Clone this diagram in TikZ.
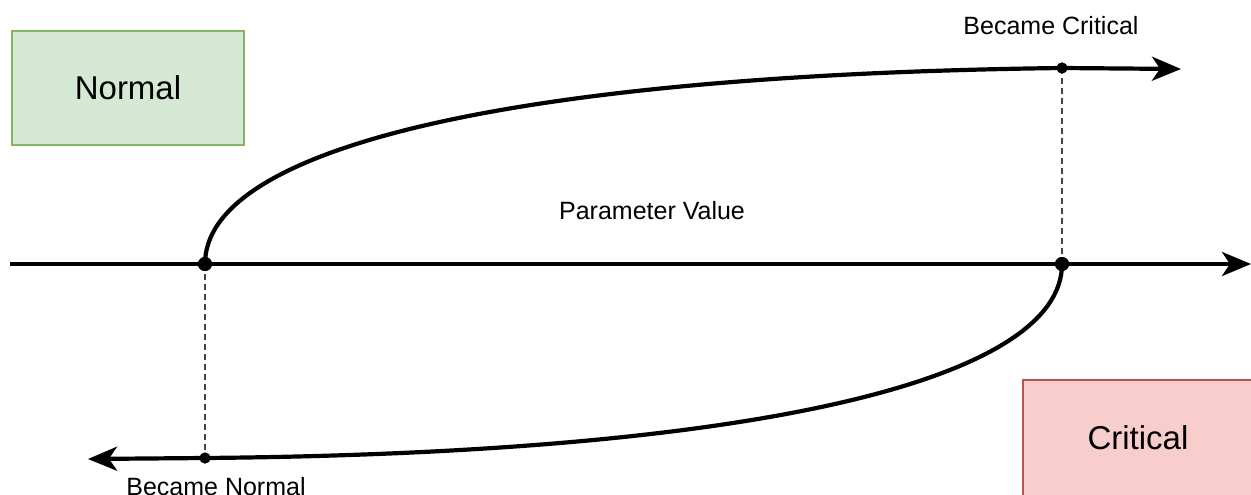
\documentclass[tikz,border=0pt]{standalone}
\usepackage{fontspec}
\setmainfont{Liberation Sans}
\usetikzlibrary{arrows.meta}
\definecolor{nfill}{HTML}{D5E8D4}
\definecolor{ndraw}{HTML}{82B366}
\definecolor{cfill}{HTML}{F8CECC}
\definecolor{cdraw}{HTML}{B85450}
\definecolor{dashgray}{HTML}{444444}
\begin{document}
\begin{tikzpicture}[x=1pt,y=-1pt,
  statebox/.style={draw, line width=1.5pt, minimum width=232pt, minimum height=114pt, inner sep=0pt, font=\fontsize{33}{38}\selectfont},
  boxtext/.style={inner sep=0pt, font=\fontsize{33}{38}\selectfont},
  lbl/.style={font=\fontsize{25}{30}\selectfont, inner sep=0pt, anchor=base},
  bigdot/.style={circle, fill=black, inner sep=0pt, minimum size=14pt},
  smalldot/.style={circle, fill=black, inner sep=0pt, minimum size=11pt},
  thick line/.style={line width=4.2pt},
  guide/.style={draw=dashgray, line width=1.6pt, dash pattern=on 6pt off 4pt},
  tip/.style={-{Stealth[length=29pt,width=24pt,inset=8pt]}}
]
\useasboundingbox (0,0) rectangle (1251,495);
\clip (0,0) rectangle (1251,495);
\fill[white] (0,0) rectangle (1251,495);

\node[statebox, fill=nfill, draw=ndraw] (normal) at (128,88) {Normal};
\path[fill=cfill, draw=cdraw, line width=1.5pt] (1023,380) rectangle (1275,520);
\node[boxtext] (critical) at (1138,438) {Critical};

\coordinate (axl) at (10,264);
\coordinate (axr) at (1251,264);
\node[bigdot] (pL) at (205,264) {};
\node[bigdot] (pR) at (1062,264) {};
\node[smalldot] (top) at (1062,68) {};
\node[smalldot] (bot) at (205,458) {};
\coordinate (topend) at (1181,69);
\coordinate (botend) at (88,459);

% guides
\draw[guide] (top.center) -- (pR.center);
\draw[guide] (pL.center) -- (bot.center);

% axis
\draw[thick line, tip] (axl) -- (axr);

% upper branch
\draw[thick line] (pL.center) .. controls (205,150) and (500,75) .. (top.center);
\draw[thick line, tip] (top.center) -- (topend);

% lower branch
\draw[thick line] (pR.center) .. controls (1062,378) and (767,453) .. (bot.center);
\draw[thick line, tip] (bot.center) -- (botend);

\node[bigdot] at (pL) {};
\node[bigdot] at (pR) {};
\node[smalldot] at (top) {};
\node[smalldot] at (bot) {};

\node[lbl] (bc) at (1051,35) {Became Critical};
\node[lbl] (pv) at (652,219) {Parameter Value};
\node[lbl] (bn) at (216,495) {Became Normal};
\end{tikzpicture}
\end{document}
